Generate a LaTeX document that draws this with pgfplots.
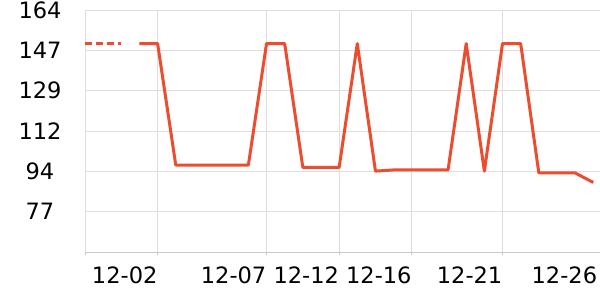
\documentclass[border=0pt]{standalone}
\usepackage{fontspec}
\setmainfont{DejaVu Sans}
\usepackage{pgfplots}
\pgfplotsset{compat=1.18}
\definecolor{lineRed}{RGB}{236,77,46}
\definecolor{gridGray}{RGB}{222,222,222}
\definecolor{axisGray}{RGB}{200,200,200}
\begin{document}
\begin{tikzpicture}
\path[use as bounding box] (0,0) rectangle (600bp,300bp);
\begin{axis}[
  at={(85bp,48bp)}, anchor=south west,
  scale only axis, width=515bp, height=242bp,
  xmin=0, xmax=28.37, ymin=59.6, ymax=164,
  axis lines=left,
  x axis line style={draw=axisGray, line width=1bp, -},
  y axis line style={draw=none},
  xtick={0,4,10,14,18,23},
  xticklabels={,12-02,12-07,12-12,12-16,12-21},
  extra x ticks={28},
  extra x tick labels={12-26},
  extra x tick style={grid=none, major tick length=0pt, xticklabel style={yshift=-3bp, xshift=4bp}},
  ytick={77,94.4,111.8,129.2,146.6,164},
  yticklabels={77,94,112,129,147,164},
  grid=major,
  major grid style={draw=gridGray, line width=0.8bp},
  tick align=outside,
  xtick style={draw=axisGray, line width=0.8bp},
  major tick length=3bp,
  ytick style={draw=none},
  tick label style={font=\fontsize{22.6}{27}\selectfont, text=black, inner sep=0pt},
  xticklabel style={anchor=base east, yshift=-28bp},
  yticklabel style={anchor=center, xshift=-42bp},
  clip=false,
]
\addplot[lineRed, line width=3bp, line join=round, dash pattern=on 7bp off 4bp] coordinates {
(0,149.5) (1,149.5) (2,149.5)
};
\addplot[lineRed, line width=3bp, line join=round] coordinates {
(3,149.5) (4,149.5) (5,97.1) (6,97.1) (7,97.1) (8,97.1) (9,97.1)
(10,149.5) (11,149.5) (12,96.1) (13,96.1) (14,96.1) (15,149.5)
(16,94.5) (17,95.0) (18,95.0) (19,95.0) (20,95.0) (21,149.5)
(22,94.5) (23,149.5) (24,149.5) (25,93.7) (26,93.7) (27,93.7) (28,89.6)
};
\end{axis}
\end{tikzpicture}
\end{document}
